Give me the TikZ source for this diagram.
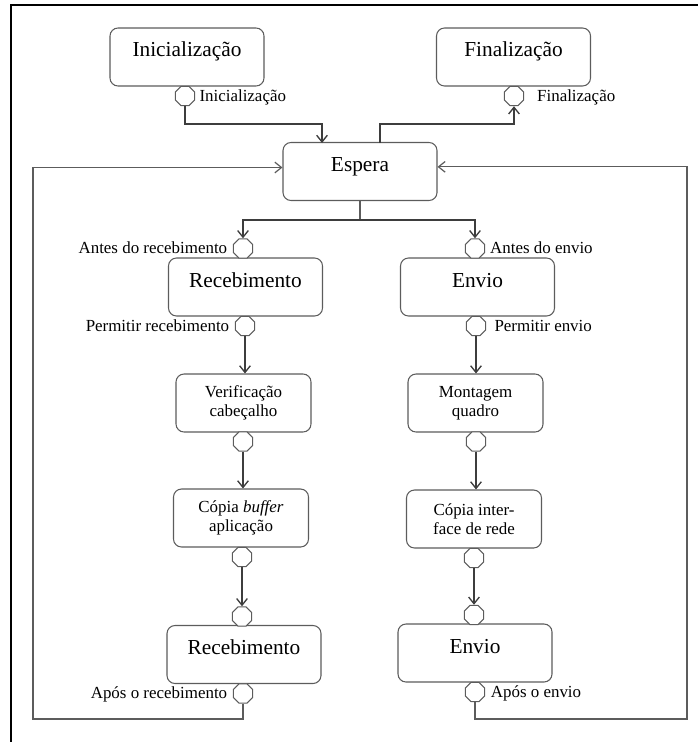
\documentclass[tikz,border=0pt]{standalone}
\usepackage{fontspec}
\setmainfont{Liberation Serif}
\usetikzlibrary{shapes.geometric,arrows.meta}

\definecolor{linegray}{rgb}{0.36,0.36,0.36}
\definecolor{darkline}{rgb}{0.24,0.24,0.24}

\tikzset{
  box/.style={draw=linegray, line width=0.8pt, rounded corners=6pt, inner sep=0pt,
    align=center, fill=white},
  bigbox/.style={box, font=\fontsize{16}{19}\selectfont, text height=10pt, text depth=10pt,
    minimum width=115.5pt, minimum height=43.5pt},
  smallbox/.style={box, font=\fontsize{12.7}{14.3}\selectfont,
    minimum width=101.25pt, minimum height=43.5pt},
  port/.style={regular polygon, regular polygon sides=8, minimum size=15.75pt,
    inner sep=0pt, draw=linegray, line width=0.8pt, fill=white},
  lbl/.style={font=\fontsize{12.7}{14}\selectfont, inner sep=0pt,
    text height=7.6pt, text depth=0pt},
  arr/.style={draw=darkline, line width=1pt, -{Straight Barb[length=5pt,width=8pt]}},
  link/.style={draw=linegray, line width=0.9pt},
}

\begin{document}
\begin{tikzpicture}[x=0.75pt, y=-0.75pt]
\useasboundingbox (0,0) rectangle (698,742);

% outer frame
\draw[line width=2pt, black] (698,5) -- (11,5) -- (11,742);

% states
\node[bigbox]   (ini)  at (187,57)      {Inicialização};
\node[bigbox]   (fin)  at (513.5,57)    {Finalização};
\node[bigbox]   (esp)  at (360,171.5)   {Espera};
\node[bigbox]   (rec1) at (245.5,287)   {Recebimento};
\node[bigbox]   (env1) at (477.5,287)   {Envio};
\node[smallbox] (ver)  at (243.5,403)   {Verificação\\cabeçalho};
\node[smallbox] (mon)  at (475.5,403)   {Montagem\\quadro};
\node[smallbox] (cpb)  at (241,518)     {Cópia \textit{buffer}\\aplicação};
\node[smallbox] (cpi)  at (474,519)     {Cópia inter-\\face de rede};
\node[bigbox]   (rec2) at (244,654.5)   {Recebimento};
\node[bigbox]   (env2) at (475,653)     {Envio};

% ports
\node[port] (pIni)   at (185,96)    {};
\node[port] (pFin)   at (514,96)    {};
\node[port] (pR1in)  at (243,248.5) {};
\node[port] (pR1out) at (245,326)   {};
\node[port] (pVer)   at (243,441.5) {};
\node[port] (pCpb)   at (242,557)   {};
\node[port] (pR2in)  at (242,616.5) {};
\node[port] (pR2out) at (243,693.5) {};
\node[port] (pE1in)  at (475,248.5) {};
\node[port] (pE1out) at (476,326)   {};
\node[port] (pMon)   at (476,441.5) {};
\node[port] (pCpi)   at (474,558)   {};
\node[port] (pE2in)  at (474,615)   {};
\node[port] (pE2out) at (475,692)   {};

% port labels
\node[lbl, anchor=west] (lIni)   at ([xshift=3pt]pIni.east)    {Inicialização};
\node[lbl, anchor=west] (lFin)   at ([xshift=9.5pt]pFin.east)  {Finalização};
\node[lbl, anchor=east] (lR1in)  at ([xshift=-4pt]pR1in.west)  {Antes do recebimento};
\node[lbl, anchor=east] (lR1out) at ([xshift=-4pt]pR1out.west) {Permitir recebimento};
\node[lbl, anchor=east] (lR2out) at ([xshift=-4pt]pR2out.west) {Após o recebimento};
\node[lbl, anchor=west] (lE1in)  at ([xshift=3.5pt]pE1in.east) {Antes do envio};
\node[lbl, anchor=west] (lE1out) at ([xshift=6pt]pE1out.east)  {Permitir envio};
\node[lbl, anchor=west] (lE2out) at ([xshift=4pt]pE2out.east)  {Após o envio};

% bend points
\coordinate (topBend) at (0,124);
\coordinate (espIn)   at (322,143);
\coordinate (espOut)  at (380,143);
\coordinate (split)   at (360,220);
\coordinate (loopL)   at (33,719);
\coordinate (loopR)   at (687,719);

% initialisation and finalisation
\draw[arr] (pIni.south) -- (pIni.south |- topBend) -| (espIn);
\draw[arr] (espOut) -- (espOut |- topBend) -| (pFin.south);

% fork to the two branches
\draw[link] (esp.south) -- (split);
\draw[arr] (split) -| (pR1in.north);
\draw[arr] (split) -| (pE1in.north);

% receive branch
\draw[arr] (pR1out.south) -- (pR1out.south |- ver.north);
\draw[arr] (pVer.south) -- (pVer.south |- cpb.north);
\draw[arr] (pCpb.south) -- (pR2in.north);

% send branch
\draw[arr] (pE1out.south) -- (pE1out.south |- mon.north);
\draw[arr] (pMon.south) -- (pMon.south |- cpi.north);
\draw[arr] (pCpi.south) -- (pE2in.north);

% return loops
\draw[link, -{Straight Barb[length=5pt,width=8pt]}]
  (pR2out.south) |- (loopL) |- ([yshift=3pt]esp.west);
\draw[link, -{Straight Barb[length=5pt,width=8pt]}]
  (pE2out.south) |- (loopR) |- ([yshift=3.5pt]esp.east);
\end{tikzpicture}
\end{document}
